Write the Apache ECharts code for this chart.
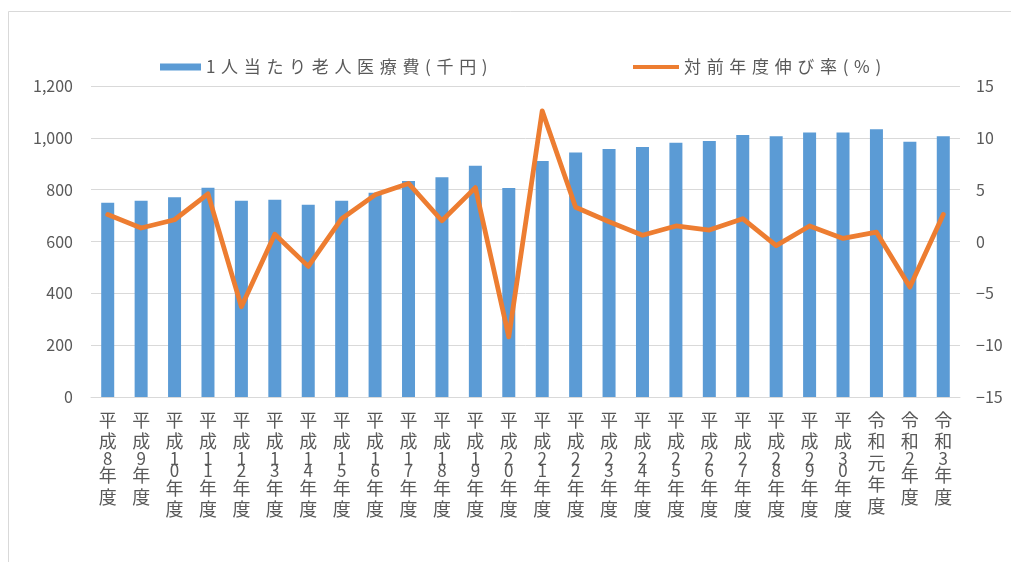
<!DOCTYPE html>
<html lang="ja">
<head>
<meta charset="utf-8">
<title>1人当たり老人医療費の推移</title>
<script src="https://cdn.jsdelivr.net/npm/echarts@6/dist/echarts.min.js"></script>
<style>
  html, body { margin: 0; padding: 0; background: #ffffff; }
  #chart { width: 1011px; height: 562px; }
</style>
</head>
<body>
<div id="chart"></div>
<script>
// 年度（カテゴリ）
const years = [
  '平成8年度', '平成9年度', '平成10年度', '平成11年度', '平成12年度', '平成13年度',
  '平成14年度', '平成15年度', '平成16年度', '平成17年度', '平成18年度', '平成19年度',
  '平成20年度', '平成21年度', '平成22年度', '平成23年度', '平成24年度', '平成25年度',
  '平成26年度', '平成27年度', '平成28年度', '平成29年度', '平成30年度',
  '令和元年度', '令和2年度', '令和3年度'
];

// 1人当たり老人医療費（千円）
const costPerPerson = [
  750, 757, 771, 807, 757, 761, 742, 757, 788, 833, 848, 892, 806,
  911, 943, 957, 965, 981, 988, 1011, 1006, 1021, 1021, 1033, 985, 1006
];

// 対前年度伸び率（%）
const growthRate = [
  2.6, 1.3, 2.1, 4.6, -6.3, 0.7, -2.4, 2.2, 4.5, 5.6, 2.0, 5.2, -9.2,
  12.6, 3.3, 1.9, 0.6, 1.5, 1.1, 2.2, -0.4, 1.5, 0.3, 0.9, -4.4, 2.6
];

const costName = '1人当たり老人医療費(千円)';
const rateName = '対前年度伸び率(%)';

const FONT = '"Noto Sans CJK JP", "Noto Sans", sans-serif';
const TEXT = '#595959';
const GRID_LINE = '#d9d9d9';

// 縦書きの軸ラベル：1文字ずつ改行して積む
function verticalLabel(v) {
  return v.split('').map(function (ch) {
    return /[0-9]/.test(ch) ? '{d|' + ch + '}' : '{c|' + ch + '}';
  }).join('\n');
}

// 凡例の字間をあける
function spaced(name) {
  return name.split('').join('\u2004');
}

const chart = echarts.init(document.getElementById('chart'), null, { renderer: 'canvas' });

chart.setOption({
  backgroundColor: '#ffffff',
  animation: false,
  textStyle: { fontFamily: FONT },
  graphic: [{
    type: 'rect',
    silent: true,
    shape: { x: 8.5, y: 11.5, width: 1100, height: 600 },
    style: { fill: 'none', stroke: GRID_LINE, lineWidth: 1 }
  }],
  legend: [{
    data: [costName],
    left: 155,
    top: 50,
    itemWidth: 41,
    itemHeight: 7,
    icon: 'rect',
    formatter: spaced,
    textStyle: { color: TEXT, fontSize: 17, lineHeight: 24, fontFamily: FONT }
  }, {
    data: [rateName],
    left: 628,
    top: 50,
    itemWidth: 46,
    itemHeight: 4,
    icon: 'rect',
    itemStyle: { color: '#ED7D31' },
    formatter: spaced,
    textStyle: { color: TEXT, fontSize: 17, lineHeight: 24, fontFamily: FONT }
  }],
  grid: {
    left: 91,
    right: 51,
    top: 86,
    bottom: 165,
    containLabel: false,
    outerBoundsMode: 'none'
  },
  xAxis: {
    type: 'category',
    data: years,
    axisLine: { lineStyle: { color: GRID_LINE, width: 1 } },
    axisTick: { show: false },
    axisLabel: {
      interval: 0,
      margin: 12,
      color: TEXT,
      formatter: verticalLabel,
      rich: {
        c: { fontSize: 18, lineHeight: 21.5, color: TEXT, fontFamily: FONT },
        d: { fontSize: 17, lineHeight: 12.5, color: TEXT, fontFamily: FONT }
      }
    }
  },
  yAxis: [{
    type: 'value',
    min: 0,
    max: 1200,
    interval: 200,
    axisLine: { show: false },
    axisTick: { show: false },
    splitLine: { lineStyle: { color: GRID_LINE, width: 1 } },
    axisLabel: {
      margin: 18,
      color: TEXT,
      fontSize: 16,
      fontFamily: FONT,
      formatter: function (v) { return v.toLocaleString('en-US'); }
    }
  }, {
    type: 'value',
    min: -15,
    max: 15,
    interval: 5,
    axisLine: { show: false },
    axisTick: { show: false },
    splitLine: { show: false },
    axisLabel: {
      margin: 16,
      color: TEXT,
      fontSize: 16,
      fontFamily: FONT,
      formatter: function (v) { return String(v).replace('-', '\u2212'); }
    }
  }],
  series: [{
    name: costName,
    type: 'bar',
    data: costPerPerson,
    barWidth: 13,
    itemStyle: { color: '#5B9BD5' }
  }, {
    name: rateName,
    type: 'line',
    yAxisIndex: 1,
    data: growthRate,
    symbol: 'none',
    lineStyle: { color: '#ED7D31', width: 4.8, cap: 'round', join: 'round' },
    itemStyle: { color: '#ED7D31' }
  }]
});
</script>
</body>
</html>
